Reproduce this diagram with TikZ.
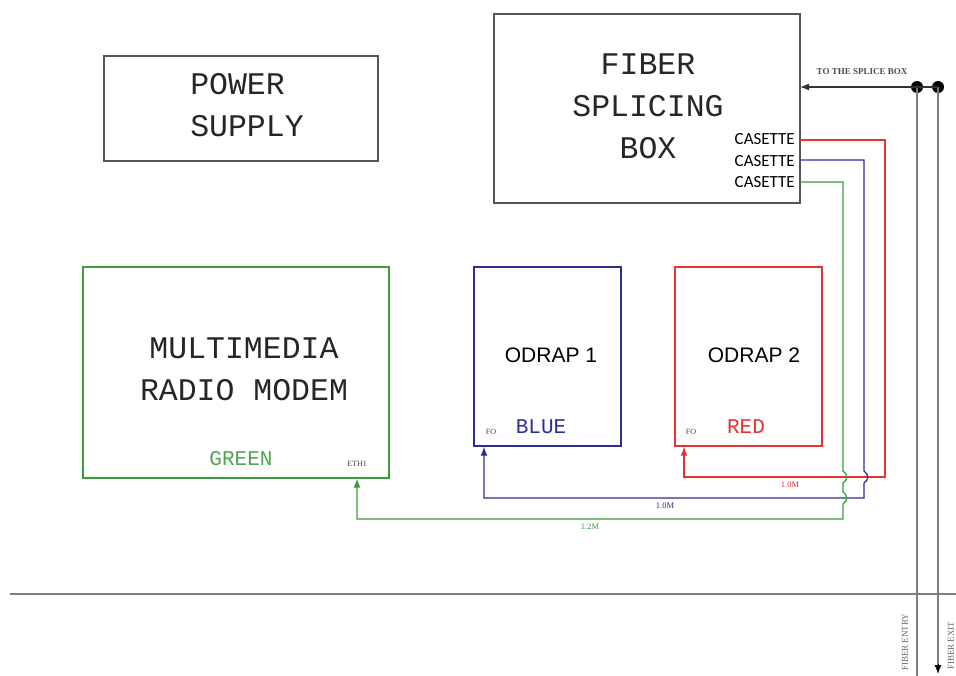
\documentclass[tikz,border=0pt]{standalone}
\usepackage{fontspec}
\setmainfont{Liberation Serif}
\newfontfamily\monofont{Liberation Mono}
\newfontfamily\arialfont{Liberation Sans}
\newfontfamily\calfont{Carlito}
\usetikzlibrary{arrows.meta,calc}
\definecolor{boxgray}{RGB}{85,85,85}
\definecolor{fgreen}{RGB}{60,155,60}
\definecolor{fblue}{RGB}{45,45,150}
\definecolor{fred}{RGB}{230,50,50}
\definecolor{cable}{RGB}{125,125,125}
\begin{document}
\begin{tikzpicture}
[x=1pt,y=-1pt,%
  box/.style={draw,rectangle,line width=1.3pt,inner sep=0pt},%
  bigtxt/.style={font=\monofont\fontsize{31.5}{42}\selectfont,text=black!85,align=center},%
  colortxt/.style={font=\monofont\fontsize{21}{24}\selectfont},%
  odtxt/.style={font=\arialfont\fontsize{21}{24}\selectfont},%
  cas/.style={font=\calfont\fontsize{17}{20}\selectfont,anchor=east,inner sep=1pt},%
  tiny/.style={font=\fontsize{8}{9}\selectfont,text=black!75},%
  len/.style={font=\fontsize{8.5}{9}\selectfont},%
  fiber/.style={line width=1.3pt},%
  tip/.style={-{Latex[length=9pt,width=7pt]}},%
  dot/.style={circle,fill=black,inner sep=0pt,minimum size=12pt}]
\useasboundingbox (0,0) rectangle (956,675);

\node[box,draw=boxgray,minimum width=274pt,minimum height=105pt] (psu) at (241,108.5) {};
\node[bigtxt,align=left] (psutxt) at (247,105) {POWER\\SUPPLY};

\node[box,draw=boxgray,minimum width=306pt,minimum height=189pt] (fsb) at (647,108.5) {};
\node[bigtxt] (fsbtxt) at (648,106) {FIBER\\SPLICING\\BOX};
\node[cas] (cas1) at (796,139) {CASETTE};
\node[cas] (cas2) at (796,161) {CASETTE};
\node[cas] (cas3) at (796,182) {CASETTE};
\coordinate (cR) at (800,140);
\coordinate (cB) at (800,160);
\coordinate (cG) at (800,182);

\node[box,draw=fgreen,minimum width=306pt,minimum height=211pt] (mrm) at (236,372.5) {};
\node[bigtxt] (mrmtxt) at (244,369) {MULTIMEDIA\\RADIO MODEM};
\node[colortxt,text=fgreen!90] (green) at (241,459) {GREEN};
\node[tiny] (eth) at (357,464) {ETH1};

\node[box,draw=fblue,minimum width=147pt,minimum height=179pt] (od1) at (547.5,356.5) {};
\node[odtxt] (od1txt) at (551,355) {ODRAP 1};
\node[colortxt,text=fblue] (blue) at (541,427) {BLUE};
\node[tiny] (fo1) at (491,432) {FO};

\node[box,draw=fred,minimum width=147pt,minimum height=179pt] (od2) at (748.5,356.5) {};
\node[odtxt] (od2txt) at (754,355) {ODRAP 2};
\node[colortxt,text=fred] (red) at (746,427) {RED};
\node[tiny] (fo2) at (691,432) {FO};

\coordinate (xR) at (684,477);
\coordinate (xB) at (484,498);
\coordinate (xG) at (357,519);

\draw[fiber,fred,tip] (cR) -| (885,477) -- (xR) -- (od2.south -| xR);
\draw[fiber,fblue,tip] (cB) -- (864,160) -- (864,471)
  .. controls (869,474) and (869,480) .. (864,483) |- (xB) -- (od1.south -| xB);
\draw[fiber,fgreen,tip] (cG) -- (843,182) -- (843,471)
  .. controls (848,474) and (848,480) .. (843,483) -- (843,492)
  .. controls (848,495) and (848,501) .. (843,504) |- (xG) -- (mrm.south -| xG);
\node[len,text=fred] (l2) at (790,485) {1.0M};
\node[len,text=fblue] (l1) at (665,506) {1.0M};
\node[len,text=fgreen] (l3) at (590,527) {1.2M};

\coordinate (gl) at (10,594);
\coordinate (gr) at (956,594);
\draw[cable,line width=2pt] (gl) -- (gr);

\node[dot] (d1) at (917,87) {};
\node[dot] (d2) at (938,87) {};
\coordinate (entry) at (917,680);
\coordinate (exit) at (938,674);
\draw[cable,line width=2pt] (d1.center) -- (entry);
\draw[cable,line width=2pt] (d2.center) -- ($(exit)+(0,-6)$);
\draw[black,line width=1pt,tip] ($(exit)+(0,-10)$) -- (exit);
\draw[black!80,line width=1.3pt,tip] (d2.center) -- (cR |- d2);
\node[font=\bfseries\fontsize{9}{11}\selectfont,text=black!70] (tsb) at (862,72) {TO THE SPLICE BOX};

\node[rotate=90,anchor=east,font=\fontsize{9}{11}\selectfont,text=black!60] (fe) at (905,610) {FIBER ENTRY};
\node[rotate=90,anchor=east,font=\fontsize{9}{11}\selectfont,text=black!60] (fx) at (951,618) {FIBER EXIT};
\end{tikzpicture}
\end{document}
